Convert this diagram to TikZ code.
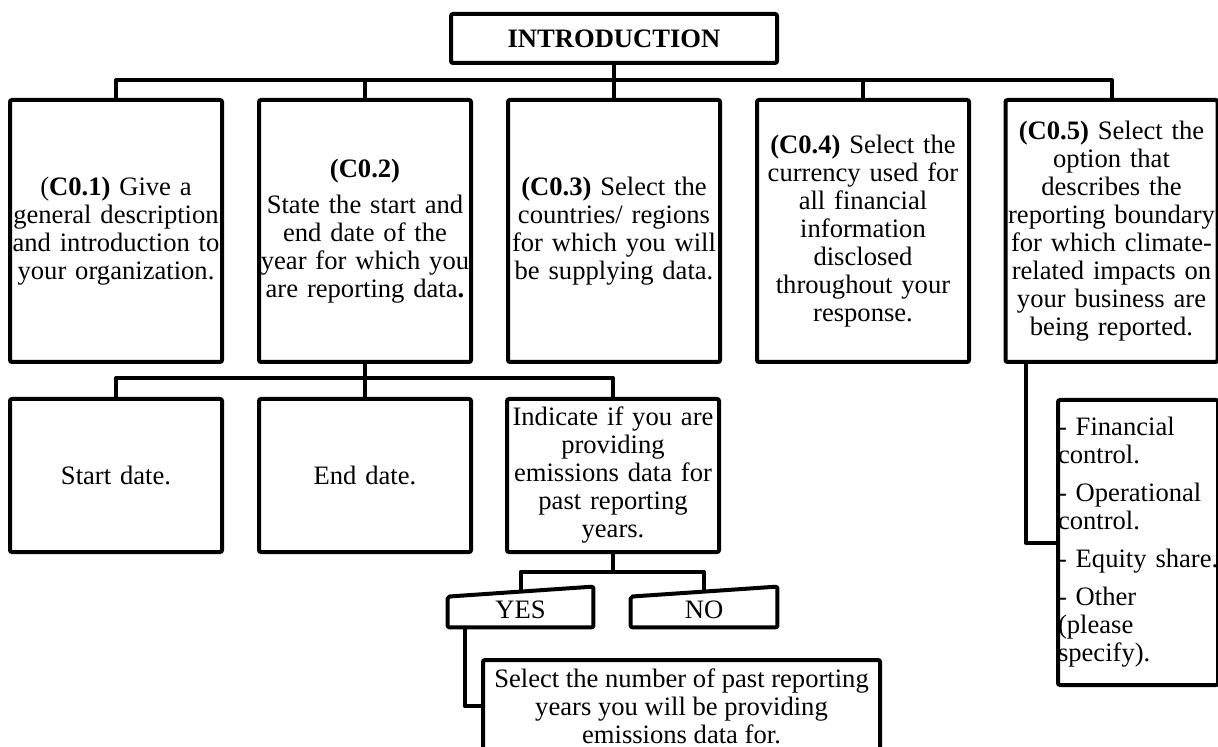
\documentclass[tikz,border=0pt]{standalone}
\usepackage{fontspec}
\setmainfont{Liberation Serif}
\usetikzlibrary{positioning,calc}
\tikzset{
  betu/.style={font=\fontsize{13.3}{14}\selectfont},
  doboz/.style={draw,line width=2pt,rounded corners=1pt,align=center,inner sep=0pt,betu},
  nagy/.style={doboz,text width=105pt,minimum width=106pt,minimum height=131pt},
  kozep/.style={doboz,text width=105pt,minimum width=106pt,minimum height=76.5pt},
  valasz/.style={betu,inner sep=0pt,minimum height=17.5pt},
  vonal/.style={line width=2pt,line join=round},
}

\begin{document}
\begin{tikzpicture}[x=0.5pt,y=-0.5pt]
  \useasboundingbox (0,0) rectangle (1218,747);
  \clip (0,0) rectangle (1218,747);
  % fo doboz es az elso sor
  \node[doboz,minimum width=163pt,minimum height=24.5pt,font=\fontsize{13.3}{14}\selectfont\bfseries] (intro) at (614,38.5) {INTRODUCTION};
  \node[nagy] (c1) at (116,231) {(\textbf{C0.1)} Give a\\ general description\\ and introduction to\\ your organization.};
  \node[nagy] (c2) at (365,231) {\textbf{(C0.2)}\\[4pt] State the start and\\ end date of the\\ year for which you\\ are reporting data\textbf{.}};
  \node[nagy] (c3) at (614,231) {\textbf{(C0.3)} Select the\\ countries/ regions\\ for which you will\\ be supplying data.};
  \node[nagy] (c4) at (863,231) {\textbf{(C0.4)} Select the\\ currency used for\\ all financial\\ information\\ disclosed\\ throughout your\\ response.};
  \node[nagy] (c5) at (1111.5,231) {\textbf{(C0.5)} Select the\\ option that\\ describes the\\ reporting boundary\\ for which climate-\\ related impacts on\\ your business are\\ being reported.};
  \draw[vonal] (intro.south) -- (c3.north);
  \draw[vonal] (c1.north) -- ++(0,-18) -| (c5.north);
  \foreach \n in {c2,c4} \draw[vonal] (\n.north) -- ++(0,-18);
  % a C0.2 aga
  \node[kozep] (start) at (116,475.5) {Start date.};
  \node[kozep] (end) at (365,475.5) {End date.};
  \node[kozep] (ind) at (613,475.5) {Indicate if you are\\ providing\\ emissions data for\\ past reporting\\ years.};
  \draw[vonal] (c2.south) -- (end.north);
  \draw[vonal] (start.north) -- ++(0,-19) -| (ind.north);
  % igen / nem
  \node[valasz,minimum width=72.5pt] (igen) at (520.5,609.5) {YES};
  \node[valasz,minimum width=73pt] (nem) at (704,609.5) {NO};
  \foreach \n in {igen,nem}
    \draw[vonal,rounded corners=1pt] ($(\n.north west)+(0,5)$) -- ($(\n.north east)+(0,-5)$)
      -- (\n.south east) -- (\n.south west) -- cycle;
  \draw[vonal] (ind.south) -- ++(0,18) -| (igen.north);
  \draw[vonal] (ind.south) ++(0,18) -| (nem.north);
  \node[doboz,minimum width=198.5pt,minimum height=46pt] (sel) at (681.5,706) {Select the number of past reporting\\ years you will be providing\\ emissions data for.};
  \draw[vonal] ($(igen.south west)+(17,0)$) |- (sel.west);
  % a C0.5 lehetosegei
  \node[doboz,align=left,text width=80pt,minimum height=142.5pt] (opc) at (1138,542.5) {\mbox{- Financial}\\ control.\\[5pt] \mbox{- Operational}\\ control.\\[5pt] \mbox{- Equity share.}\\[5pt] \mbox{- Other}\\ (please\\ specify).};
  \draw[vonal] ($(c5.south west)+(22,0)$) |- (opc.west);
\end{tikzpicture}
\end{document}
